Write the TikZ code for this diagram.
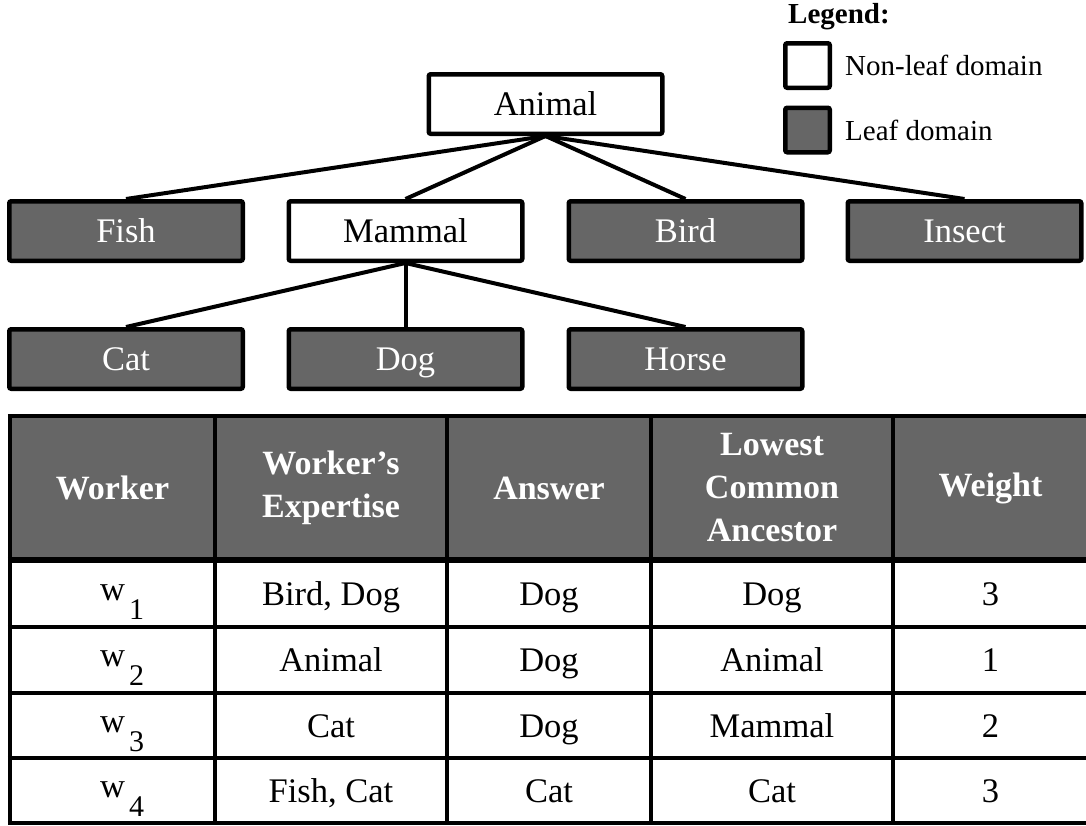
\documentclass[tikz,border=0pt]{standalone}
\usepackage{fontspec}
\setmainfont{Liberation Serif}
\definecolor{leafgray}{HTML}{666666}
\tikzset{
  domainbox/.style={draw=black, line width=4.5pt, rounded corners=2pt,
    minimum width=233.5pt, minimum height=59.5pt, inner sep=0pt,
    text height=30pt, text depth=7pt, font=\fontsize{34.5}{40}\selectfont},
  leafbox/.style={domainbox, fill=leafgray, text=white},
  innerbox/.style={domainbox, fill=white, text=black},
  link/.style={line width=4pt},
  keybox/.style={draw=black, line width=4.5pt, rounded corners=2pt,
    minimum size=44.5pt, inner sep=0pt},
  keytext/.style={anchor=base west, inner sep=0pt, font=\fontsize{29}{34}\selectfont},
  rule/.style={line width=4.5pt},
  celltext/.style={anchor=base, inner sep=0pt, font=\fontsize{34.5}{40}\selectfont},
  headtext/.style={align=center, inner sep=0pt, text=white,
    font=\bfseries\fontsize{34}{43}\selectfont},
}
% worker label: letter w with a lowered index
\newcommand{\wsub}[1]{\raisebox{5pt}{w}\hspace{4pt}\raisebox{-14pt}{\fontsize{30}{34}\selectfont #1}}
\begin{document}
\begin{tikzpicture}[x=1pt, y=-1pt]
\useasboundingbox (0,0) rectangle (1086,825);
\clip (0,0) rectangle (1086,825);

% ---- legend ----
\node[anchor=base west, inner sep=0pt, font=\bfseries\fontsize{29}{34}\selectfont] (legend) at (788,23) {Legend:};
\node[keybox, fill=white] (keyinner) at (807.5,65.5) {};
\node[keybox, fill=leafgray] (keyleaf) at (807.5,130) {};
\node[keytext] (keyinnertext) at (845,75) {Non-leaf domain};
\node[keytext] (keyleaftext) at (845,140) {Leaf domain};

% ---- domain hierarchy ----
\node[innerbox] (animal) at (545.5,104) {Animal};
\node[leafbox]  (fish)   at (126,231)   {Fish};
\node[innerbox] (mammal) at (405.5,231) {Mammal};
\node[leafbox]  (bird)   at (685.5,231) {Bird};
\node[leafbox]  (insect) at (964.5,231) {Insect};
\node[leafbox]  (cat)    at (126,359)   {Cat};
\node[leafbox]  (dog)    at (405.5,359) {Dog};
\node[leafbox]  (horse)  at (685.5,359) {Horse};

\foreach \c in {fish,mammal,bird,insect}
  \draw[link] (animal.south) -- (\c.north);
\foreach \c in {cat,dog,horse}
  \draw[link] (mammal.south) -- (\c.north);

% ---- table ----
\fill[leafgray] (10,416) rectangle (1089,560);
\fill[white] (10,560) rectangle (1089,823);
\foreach \y in {416,627,693,758,823}
  \draw[rule] (7.75,\y) -- (1091.25,\y);
\draw[line width=6pt] (7.75,560) -- (1091.25,560);
\foreach \x in {10,215,447,651,893,1089}
  \draw[rule] (\x,416) -- (\x,823);

% header
\node[headtext] (hworker) at (112.5,488) {Worker};
\node[headtext] (hexpert) at (331,488) {Worker’s\\Expertise};
\node[headtext] (hanswer) at (549,488) {Answer};
\node[headtext] (hlca)    at (772,488) {Lowest\\Common\\Ancestor};
\node[headtext] (hweight) at (990.5,488) {Weight};

% rows
\node[celltext, anchor=base west] (w1) at (100,605) {\wsub{1}};
\node[celltext] (e1) at (331,605) {Bird, Dog};
\node[celltext] (a1) at (549,605) {Dog};
\node[celltext] (l1) at (772,605) {Dog};
\node[celltext] (g1) at (990.5,605) {3};

\node[celltext, anchor=base west] (w2) at (100,671.5) {\wsub{2}};
\node[celltext] (e2) at (331,671.5) {Animal};
\node[celltext] (a2) at (549,671.5) {Dog};
\node[celltext] (l2) at (772,671.5) {Animal};
\node[celltext] (g2) at (990.5,671.5) {1};

\node[celltext, anchor=base west] (w3) at (100,737) {\wsub{3}};
\node[celltext] (e3) at (331,737) {Cat};
\node[celltext] (a3) at (549,737) {Dog};
\node[celltext] (l3) at (772,737) {Mammal};
\node[celltext] (g3) at (990.5,737) {2};

\node[celltext, anchor=base west] (w4) at (100,802) {\wsub{4}};
\node[celltext] (e4) at (331,802) {Fish, Cat};
\node[celltext] (a4) at (549,802) {Cat};
\node[celltext] (l4) at (772,802) {Cat};
\node[celltext] (g4) at (990.5,802) {3};
\end{tikzpicture}
\end{document}
